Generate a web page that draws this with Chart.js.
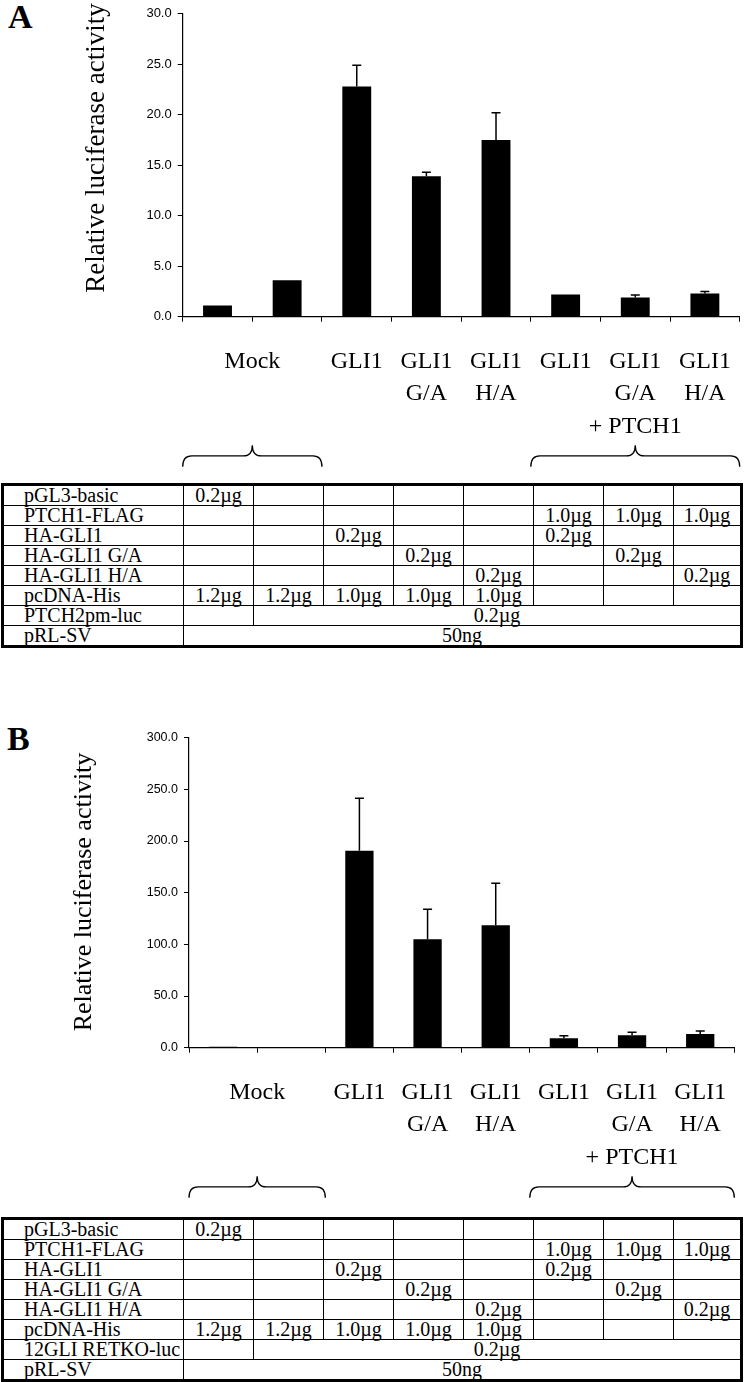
<!DOCTYPE html>
<html>
<head>
<meta charset="utf-8">
<script src="https://cdn.jsdelivr.net/npm/chart.js@4.4.0/dist/chart.umd.min.js"></script>
<style>
  body { margin: 0; background: #fff; width: 745px; height: 1382px; position: relative; overflow: hidden;
         font-family: "Liberation Serif", "Times New Roman", serif; color: #000; }
  .panel { position: absolute; font-weight: bold; font-size: 34px; line-height: 34px; }
  canvas { position: absolute; left: 0; }
  table { position: absolute; left: 1px; border-collapse: collapse; table-layout: fixed; border: 3px solid #000;
          font-size: 20px; }
  td { border: 1px solid #000; height: 19px; padding: 0; line-height: 18px; white-space: nowrap;
       text-align: center; vertical-align: top; overflow: visible; }
  td.name { text-align: left; padding-left: 20px; }
</style>
</head>
<body>
<div class="panel" style="left:8px;top:0px">A</div>
<div class="panel" style="left:7px;top:722px">B</div>
<canvas id="chartA" width="745" height="480" style="top:0px"></canvas>
<table id="tableA"></table>
<canvas id="chartB" width="745" height="530" style="top:680px"></canvas>
<table id="tableB"></table>
<script>
// categories (x axis) and the text printed under each bar
const categories = ['Mock', 'Mock', 'GLI1', 'GLI1 G/A', 'GLI1 H/A', 'GLI1 + PTCH1', 'GLI1 G/A + PTCH1', 'GLI1 H/A + PTCH1'];
const labelLines = [[], [], ['GLI1'], ['GLI1', 'G/A'], ['GLI1', 'H/A'], ['GLI1'], ['GLI1', 'G/A'], ['GLI1', 'H/A']];
const groupLabels = [
  { text: 'Mock', from: 0, to: 1, line: 0 },
  { text: '+ PTCH1', from: 5, to: 7, line: 2 },
];

// panel A: PTCH2pm-luc
const meanA = [1.1, 3.6, 22.8, 13.9, 17.5, 2.2, 1.9, 2.3];
const errA = [0, 0, 2.1, 0.4, 2.7, 0, 0.25, 0.2];
const ticksA = { min: 0, max: 30, step: 5 };

// panel B: 12GLI RETKO-luc
const meanB = [1.0, 0.2, 190.6, 104.9, 118.4, 9.1, 12.0, 13.3];
const errB = [0, 0, 50.7, 29.0, 40.7, 2.5, 2.9, 2.9];
const ticksB = { min: 0, max: 300, step: 50 };

const yTitle = 'Relative luciferase activity';

// transfection tables
const rowsA = [
  ['pGL3-basic', '0.2µg', '', '', '', '', '', '', ''],
  ['PTCH1-FLAG', '', '', '', '', '', '1.0µg', '1.0µg', '1.0µg'],
  ['HA-GLI1', '', '', '0.2µg', '', '', '0.2µg', '', ''],
  ['HA-GLI1 G/A', '', '', '', '0.2µg', '', '', '0.2µg', ''],
  ['HA-GLI1 H/A', '', '', '', '', '0.2µg', '', '', '0.2µg'],
  ['pcDNA-His', '1.2µg', '1.2µg', '1.0µg', '1.0µg', '1.0µg', '', '', ''],
  ['PTCH2pm-luc', '', { span: 7, text: '0.2µg' }],
  ['pRL-SV', { span: 8, text: '50ng' }],
];
const rowsB = rowsA.map(r => r[0] === 'PTCH2pm-luc' ? ['12GLI RETKO-luc'].concat(r.slice(1)) : r);

const errorBars = {
  id: 'errorBars',
  afterDatasetsDraw(chart, args, opts) {
    const { ctx, scales: { y } } = chart;
    const vals = chart.data.datasets[0].data;
    ctx.save();
    ctx.strokeStyle = '#000';
    ctx.lineWidth = 1.5;
    chart.getDatasetMeta(0).data.forEach((bar, i) => {
      if (!opts.errors[i]) return;
      const top = y.getPixelForValue(vals[i] + opts.errors[i]);
      ctx.beginPath();
      ctx.moveTo(bar.x, bar.y);
      ctx.lineTo(bar.x, top);
      ctx.moveTo(bar.x - 4.5, top);
      ctx.lineTo(bar.x + 4.5, top);
      ctx.stroke();
    });
    ctx.restore();
  },
};

function brace(ctx, x0, x1, xm, yTip, yEnd) {
  const yMid = yTip + (yEnd - yTip) * 0.5;
  const r = 9;
  ctx.beginPath();
  ctx.moveTo(x0, yEnd);
  ctx.quadraticCurveTo(x0, yMid, x0 + r, yMid);
  ctx.lineTo(xm - r, yMid);
  ctx.quadraticCurveTo(xm, yMid, xm, yTip);
  ctx.quadraticCurveTo(xm, yMid, xm + r, yMid);
  ctx.lineTo(x1 - r, yMid);
  ctx.quadraticCurveTo(x1, yMid, x1, yEnd);
  ctx.stroke();
}

const groupText = {
  id: 'groupText',
  afterDraw(chart, args, opts) {
    const { ctx, scales: { x }, chartArea } = chart;
    const base = chartArea.bottom;
    const half = (x.getPixelForValue(1) - x.getPixelForValue(0)) / 2;
    ctx.save();
    ctx.fillStyle = '#000';
    ctx.strokeStyle = '#000';
    ctx.lineWidth = 1.3;
    ctx.font = '24px "Liberation Serif"';
    ctx.textAlign = 'center';
    ctx.textBaseline = 'alphabetic';
    labelLines.forEach((lines, i) => {
      lines.forEach((t, j) => ctx.fillText(t, x.getPixelForValue(i), base + 50.8 + j * 32.5));
    });
    groupLabels.forEach(g => {
      const x0 = x.getPixelForValue(g.from) - half;
      const x1 = x.getPixelForValue(g.to) + half;
      const xm = (x0 + x1) / 2;
      ctx.fillText(g.text, xm, base + 50.8 + g.line * 32.5);
      brace(ctx, x0, x1, xm, base + 128.5, base + 150);
    });
    // y axis title
    ctx.translate(opts.titleX, opts.titleY);
    ctx.rotate(-Math.PI / 2);
    ctx.font = opts.titleSize + 'px "Liberation Serif"';
    ctx.textBaseline = 'middle';
    ctx.fillText(yTitle, 0, 0);
    ctx.restore();
  },
};

function drawBarChart(element, values, errors, ticks, box) {
  const ctx = document.getElementById(element);
  return new Chart(ctx, {
    type: 'bar',
    data: {
      labels: categories,
      datasets: [{
        data: values,
        backgroundColor: '#000',
        borderWidth: 0,
        barPercentage: 0.83,
        categoryPercentage: 0.5,
      }],
    },
    options: {
      responsive: false,
      animation: false,
      layout: { padding: { top: box.top, right: box.right, left: 0, bottom: 0 } },
      plugins: {
        legend: { display: false },
        tooltip: { enabled: false },
        errorBars: { errors },
        groupText: { titleX: box.titleX, titleY: box.titleY, titleSize: box.titleSize },
      },
      scales: {
        x: {
          grid: { display: true, drawOnChartArea: false, offset: true, tickLength: 5, color: '#000' },
          border: { color: '#000', width: 1.2 },
          ticks: { display: false },
          afterFit(s) { s.height = box.xHeight; },
        },
        y: {
          min: ticks.min,
          max: ticks.max,
          grid: { drawOnChartArea: false, tickLength: 5, color: '#000' },
          border: { color: '#000', width: 1.2 },
          ticks: {
            stepSize: ticks.step,
            padding: 6,
            color: '#000',
            font: { family: '"Liberation Sans", Arial', size: box.tickSize },
            callback: v => v.toFixed(1),
          },
          afterFit(s) { s.width = box.yWidth; },
        },
      },
    },
    plugins: [errorBars, groupText],
  });
}

function buildTable(element, rows, top) {
  const t = document.getElementById(element);
  t.style.top = top + 'px';
  let html = '<colgroup><col style="width:181px">' + '<col style="width:70px">'.repeat(7) + '<col style="width:68px"></colgroup>';
  rows.forEach(r => {
    html += '<tr><td class="name">' + r[0] + '</td>';
    r.slice(1).forEach(c => {
      if (typeof c === 'object') html += '<td colspan="' + c.span + '">' + c.text + '</td>';
      else html += '<td>' + c + '</td>';
    });
    html += '</tr>';
  });
  t.innerHTML = html;
}

drawBarChart('chartA', meanA, errA, ticksA,
  { top: 6.5, right: 5.3, xHeight: 163.3, yWidth: 182.7, tickSize: 13, titleX: 97, titleY: 148, titleSize: 27 });
drawBarChart('chartB', meanB, errB, ticksB,
  { top: 57.7, right: 10.7, xHeight: 162.3, yWidth: 189, tickSize: 12.5, titleX: 84, titleY: 212, titleSize: 26 });
buildTable('tableA', rowsA, 483);
buildTable('tableB', rowsB, 1217);
</script>
</body>
</html>
